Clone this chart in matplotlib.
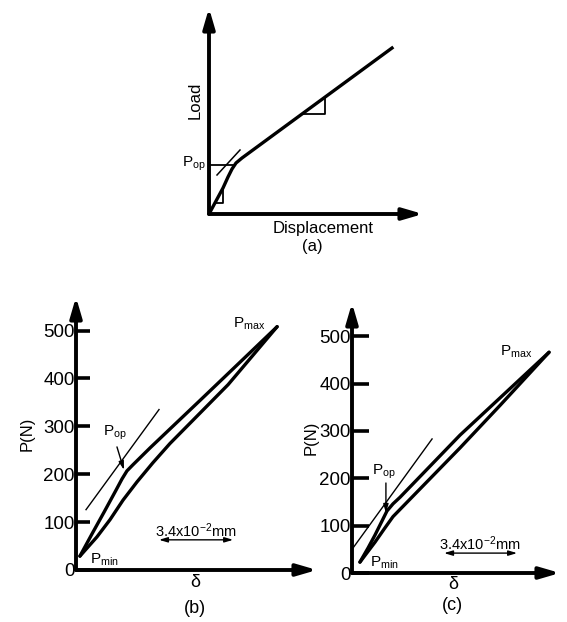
import matplotlib

matplotlib.use("Agg")

import matplotlib.pyplot as plt


plt.rcParams["font.family"] = ["Liberation Sans", "DejaVu Sans"]
plt.rcParams["mathtext.fontset"] = "custom"
plt.rcParams["mathtext.rm"] = "Liberation Sans"
plt.rcParams["mathtext.it"] = "Liberation Sans:italic"
plt.rcParams["mathtext.bf"] = "Liberation Sans:bold"

W, H = 567, 622

# (a) schematic load-displacement curve, arbitrary units
curve_a_x = [0, 7, 14, 19, 23, 27, 33, 183]
curve_a_y = [0, 13, 26, 37, 45, 51, 56, 166]
pop_a = 49
tangent_a_x = [8, 31]
tangent_a_y = [39, 64]
small_tri_x = [6, 14, 14]
small_tri_y = [11, 11, 24]
big_tri_x = [93, 116, 116]
big_tri_y = [100, 100, 116]

# (b) measured loop, delta in 1e-2 mm, load in N
delta_b_up = [0.18, 0.73, 1.29, 1.84, 2.11, 2.34, 2.62, 3.40, 5.69, 7.99, 9.23]
load_b_up = [29, 75, 121, 167, 190, 207, 220, 255, 354, 454, 508]
delta_b_down = [0.18, 0.96, 1.56, 2.16, 2.80, 3.53, 4.31, 5.70, 6.98, 9.23]
load_b_down = [29, 69, 105, 146, 184, 224, 264, 328, 387, 508]
tangent_b_x = [0.46, 3.81]
tangent_b_y = [126, 335]

# (c) measured loop
delta_c_up = [0.37, 0.75, 1.07, 1.40, 1.63, 1.91, 2.24, 5.03, 9.18]
load_c_up = [23, 53, 80, 110, 131, 146, 160, 291, 466]
delta_c_down = [0.37, 1.07, 1.50, 1.91, 5.03, 6.90, 9.18]
load_c_down = [23, 65, 93, 119, 264, 354, 466]
tangent_c_x = [0.05, 3.73]
tangent_c_y = [53, 283]

load_ticks = [0, 100, 200, 300, 400, 500]
scale_label = "3.4x10$^{-2}$mm"


def add_axes_px(left, bottom, width, height):
    # bottom is measured from the top of the picture, like pixel coords
    return fig.add_axes([left / W, (H - bottom) / H, width / W, height / H])


def draw_axis_arrows(ax, lw):
    style = "-|>,head_length=1.2,head_width=0.35"
    for end in [(1, 0), (0, 1)]:
        ax.annotate(
            "",
            xy=end,
            xytext=(0, 0),
            xycoords="axes fraction",
            arrowprops=dict(arrowstyle=style, lw=lw, color="black", shrinkA=0, shrinkB=0),
            annotation_clip=False,
        )


def small_arrow(ax, start, end, both=False):
    style = "<|-|>" if both else "-|>"
    ax.annotate(
        "",
        xy=end,
        xytext=start,
        arrowprops=dict(
            arrowstyle=style + ",head_length=0.5,head_width=0.15",
            lw=1.0,
            color="black",
            shrinkA=0,
            shrinkB=0,
        ),
        annotation_clip=False,
    )


def loop_panel(ax, up, down, tangent, xmax, tick_len):
    ax.plot(up[0], up[1], color="black", lw=2.4, solid_capstyle="round")
    ax.plot(down[0], down[1], color="black", lw=2.4, solid_capstyle="round")
    ax.plot(tangent[0], tangent[1], color="black", lw=1.0)
    ax.set_xlim(0, xmax)
    ax.set_ylim(0, 570)
    ax.set_xticks([])
    ax.set_yticks(load_ticks)
    ax.tick_params(axis="y", direction="in", length=tick_len, width=2.6, labelsize=13.5, pad=1)
    for spine in ax.spines.values():
        spine.set_visible(False)
    ax.patch.set_alpha(0)
    draw_axis_arrows(ax, 2.8)


fig = plt.figure(figsize=(W / 100, H / 100), dpi=100)

# panel (a)
ax_a = add_axes_px(209, 214, 214, 206)
ax_a.plot(curve_a_x, curve_a_y, color="black", lw=2.4)
ax_a.plot([0, 24], [pop_a, pop_a], color="black", lw=1.3)
ax_a.plot(tangent_a_x, tangent_a_y, color="black", lw=1.1)
ax_a.plot(small_tri_x, small_tri_y, color="black", lw=1.3)
ax_a.plot(big_tri_x, big_tri_y, color="black", lw=1.3)
ax_a.set_xlim(0, 214)
ax_a.set_ylim(0, 206)
ax_a.set_xticks([])
ax_a.set_yticks([])
for spine in ax_a.spines.values():
    spine.set_visible(False)
draw_axis_arrows(ax_a, 2.8)
ax_a.text(-14, 114, "Load", rotation=90, ha="center", va="center", fontsize=12)
ax_a.text(-3, 50, "P$_{\\rm op}$", ha="right", va="center", fontsize=11)
ax_a.text(114, -14, "Displacement", ha="center", va="center", fontsize=12)
ax_a.text(103, -32, "(a)", ha="center", va="center", fontsize=12)

# panel (b)
ax_b = add_axes_px(76, 570, 241, 273)
loop_panel(ax_b, (delta_b_up, load_b_up), (delta_b_down, load_b_down),
           (tangent_b_x, tangent_b_y), 11.06, 10)
ax_b.set_ylabel("P(N)", fontsize=12, labelpad=6)
ax_b.text(1.24, 287, "P$_{\\rm op}$", ha="left", va="center", fontsize=11)
small_arrow(ax_b, (1.88, 257), (2.2, 209))
ax_b.text(7.2, 514, "P$_{\\rm max}$", ha="left", va="center", fontsize=11)
ax_b.text(0.64, 22, "P$_{\\rm min}$", ha="left", va="center", fontsize=11)
ax_b.text(5.51, 82, scale_label, ha="center", va="center", fontsize=10.5)
small_arrow(ax_b, (3.81, 63), (7.21, 63), both=True)
ax_b.text(5.46, -27, "δ", ha="center", va="center", fontsize=13)
ax_b.text(5.46, -80, "(b)", ha="center", va="center", fontsize=13)

# panel (c)
ax_c = add_axes_px(352, 573, 208, 270)
loop_panel(ax_c, (delta_c_up, load_c_up), (delta_c_down, load_c_down),
           (tangent_c_x, tangent_c_y), 9.69, 12)
ax_c.set_ylabel("P(N)", fontsize=12, labelpad=0)
ax_c.text(0.93, 213, "P$_{\\rm op}$", ha="left", va="center", fontsize=11)
small_arrow(ax_c, (1.58, 190), (1.58, 127))
ax_c.text(6.9, 468, "P$_{\\rm max}$", ha="left", va="center", fontsize=11)
ax_c.text(0.84, 22, "P$_{\\rm min}$", ha="left", va="center", fontsize=11)
ax_c.text(5.97, 61, scale_label, ha="center", va="center", fontsize=10.5)
small_arrow(ax_c, (4.29, 42), (7.69, 42), both=True)
ax_c.text(4.7, -25, "δ", ha="center", va="center", fontsize=13)
ax_c.text(4.7, -68, "(c)", ha="center", va="center", fontsize=13)

fig.savefig("out.png", dpi=100, facecolor="white")
